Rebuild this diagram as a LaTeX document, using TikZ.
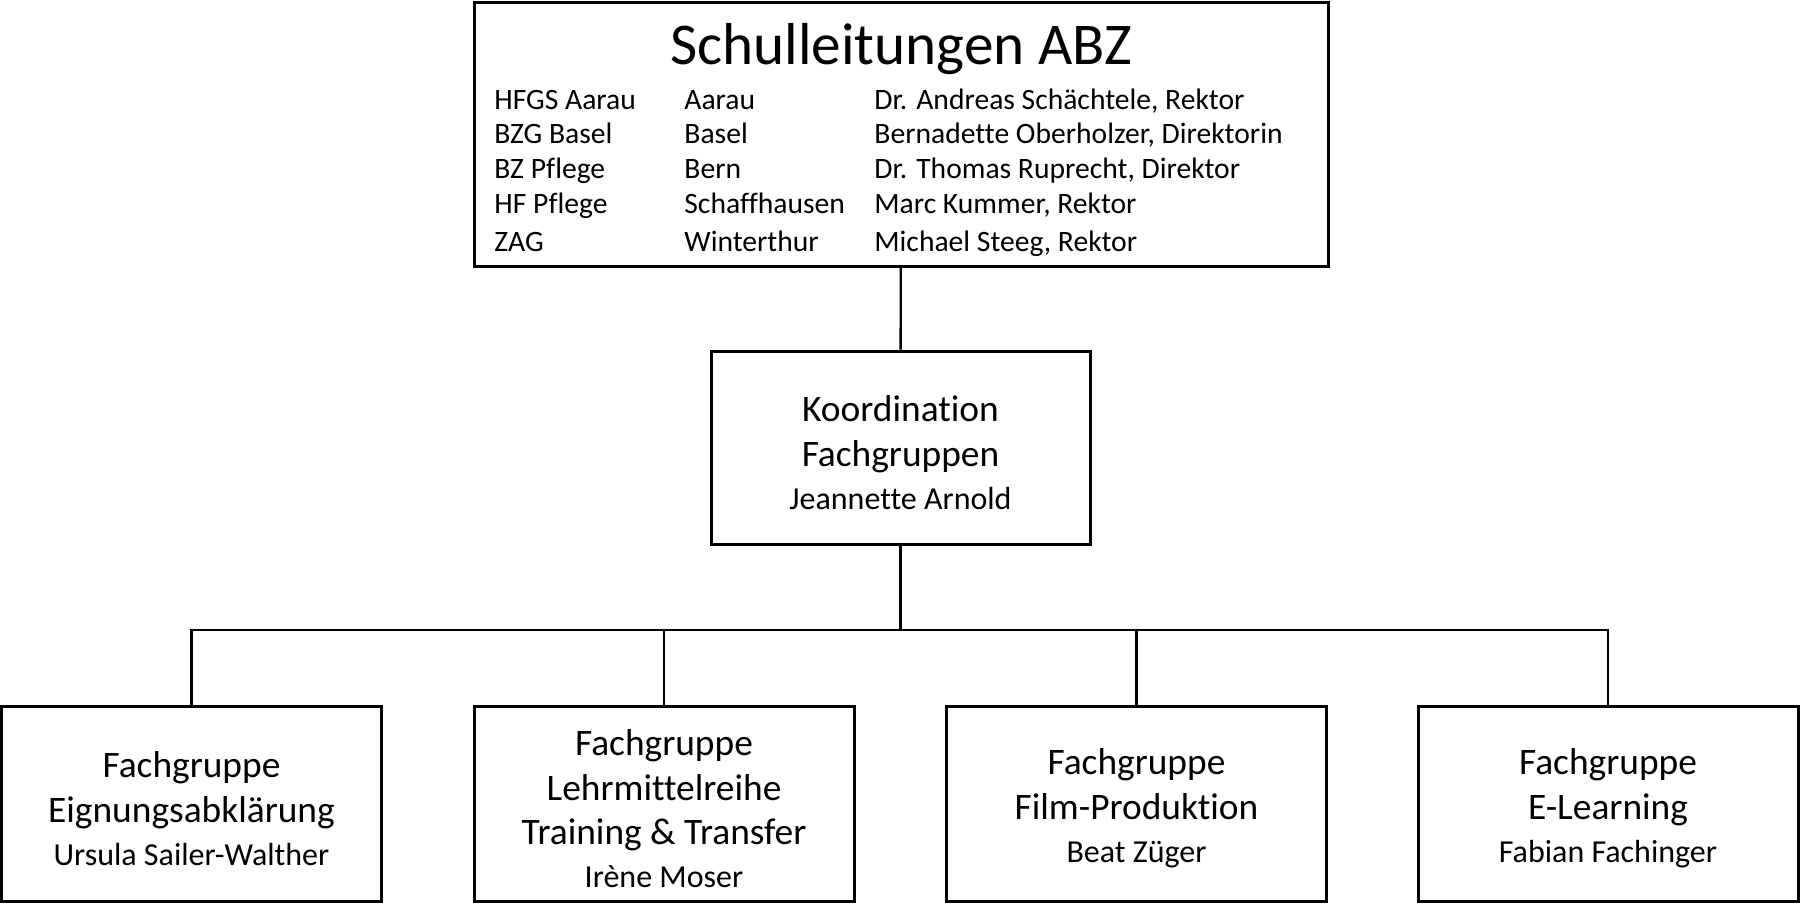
\documentclass[tikz,border=0pt]{standalone}
\usepackage{fontspec}
\setmainfont[Ligatures=NoCommon]{Carlito}
\usetikzlibrary{positioning}
\newcommand{\bigfont}{\fontsize{18.7}{22.4}\selectfont}
\newcommand{\namefont}{\fontsize{16}{21.5}\selectfont}
\newcommand{\listfont}{\fontsize{14.8}{17}\selectfont}
\newcommand{\titlefont}{\fontsize{29.6}{34}\selectfont}
\newcommand{\topstrut}{\rule{0pt}{18pt}}
\tikzstyle{box}=[
  draw,
  line width=1.5pt,
  align=center,
  inner sep=0pt,
  font=\bigfont
]
\tikzstyle{fgbox}=[
  box,
  minimum width=190pt,
  minimum height=97.5pt
]
\tikzstyle{entry}=[
  anchor=base west,
  inner sep=0pt,
  font=\listfont
]
\tikzstyle{link}=[
  line width=1.2pt
]
\begin{document}
\begin{tikzpicture}[x=0.5pt, y=-0.5pt]
  \useasboundingbox (0,0) rectangle (1800,907);

  \node[box, minimum width=427pt, minimum height=132pt] (top) at (901,134) {};
  \node[font=\titlefont] (title) at (901,49) {Schulleitungen ABZ};
  \foreach \kurz/\ort/\leitung/\y in {
      HFGS Aarau/Aarau/{Dr. Andreas Schächtele, Rektor}/109,
      BZG Basel/Basel/{Bernadette Oberholzer, Direktorin}/143,
      BZ Pflege/Bern/{Dr. Thomas Ruprecht, Direktor}/178,
      HF Pflege/Schaffhausen/{Marc Kummer, Rektor}/213,
      ZAG/Winterthur/{Michael Steeg, Rektor}/251} {
    \node[entry] (kurz\y)    at (494,\y) {\kurz};
    \node[entry] (ort\y)     at (684,\y) {\ort};
    \node[entry] (leitung\y) at (874,\y) {\leitung};
  }

  \node[box, minimum width=189.5pt, minimum height=96.5pt] (koord) at (900.5,447.5)
    {\topstrut Koordination\\Fachgruppen\\[-1pt]{\namefont Jeannette Arnold}};

  \node[fgbox] (eignung)    at (191.5,803.5) {\topstrut Fachgruppe\\Eignungsabklärung\\[-1pt]{\namefont Ursula Sailer-Walther}};
  \node[fgbox] (lehrmittel) at (664,803.5)   {\topstrut Fachgruppe\\Lehrmittelreihe\\Training \& Transfer\\[-1pt]{\namefont Irène Moser}};
  \node[fgbox] (film)       at (1136.5,803.5) {\topstrut Fachgruppe\\Film-Produktion\\[-1pt]{\namefont Beat Züger}};
  \node[fgbox] (elearning)  at (1608,803.5)  {\topstrut Fachgruppe\\E-Learning\\[-1pt]{\namefont Fabian Fachinger}};

  \coordinate (bar) at (900.5,630);
  \draw[link] (top) -- (koord);
  \draw[link] (koord) -- (bar);
  \foreach \fg in {eignung,lehrmittel,film,elearning}
    \draw[link] (bar) -| (\fg);
\end{tikzpicture}
\end{document}
